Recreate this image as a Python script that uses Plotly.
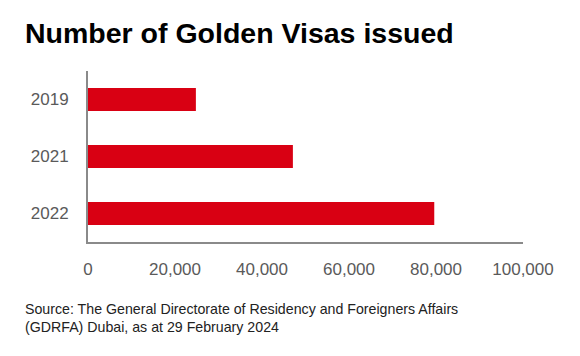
import plotly.graph_objects as go

years = ["2019", "2021", "2022"]
visas = [24800, 47100, 79600]
x_ticks = [0, 20000, 40000, 60000, 80000, 100000]
x_tick_labels = ["0", "20,000", "40,000", "60,000", "80,000", "100,000"]

# page body has an 8px margin; shift everything accordingly
OFF = 8
W, H = 580 - 2 * OFF, 356 - 2 * OFF
L, T = 88 - OFF, 71 - OFF
pw, ph = 435, 171
R, B = W - L - pw, H - T - ph

fig = go.Figure(go.Bar(
    x=visas, y=years, orientation="h",
    marker=dict(color="#D90013", line=dict(width=0)),
    width=0.4, hoverinfo="x+y",
))

fig.update_layout(
    width=W, height=H,
    margin=dict(l=L, r=R, t=T, b=B, autoexpand=False),
    paper_bgcolor="white", plot_bgcolor="white",
    showlegend=False,
    font=dict(family="Liberation Sans, Arial, sans-serif", color="#5a5a5a"),
    title=dict(
        text="<b>Number of Golden Visas issued</b>",
        xref="container", yref="container",
        x=(25 - OFF) / W, xanchor="left",
        y=1 - (33 - OFF) / H, yanchor="middle",
        font=dict(size=28.5, color="#000000", family="Liberation Sans, Arial, sans-serif"),
    ),
    xaxis=dict(
        range=[0, 100000], tickvals=x_ticks, ticktext=x_tick_labels,
        showgrid=False, zeroline=False,
        showline=True, linecolor="#8a8a8a", linewidth=2,
        ticks="", ticklabelstandoff=11,
        tickfont=dict(size=17, color="#5a5a5a"),
        fixedrange=True,
    ),
    yaxis=dict(
        categoryorder="array", categoryarray=years,
        autorange=False, range=[2.5, -0.5],
        showgrid=False, zeroline=False,
        showline=True, linecolor="#8a8a8a", linewidth=2,
        ticks="", ticklabelstandoff=14,
        tickfont=dict(size=17, color="#5a5a5a"),
        fixedrange=True,
    ),
    annotations=[dict(
        text="Source: The General Directorate of Residency and Foreigners Affairs<br>(GDRFA) Dubai, as at 29 February 2024",
        xref="paper", yref="paper",
        x=(23 - 88) / pw, xanchor="left",
        y=(242 - 299) / ph, yanchor="top",
        align="left", showarrow=False,
        font=dict(size=14.2, color="#222222"),
    )],
)

fig.write_html("out.html")
